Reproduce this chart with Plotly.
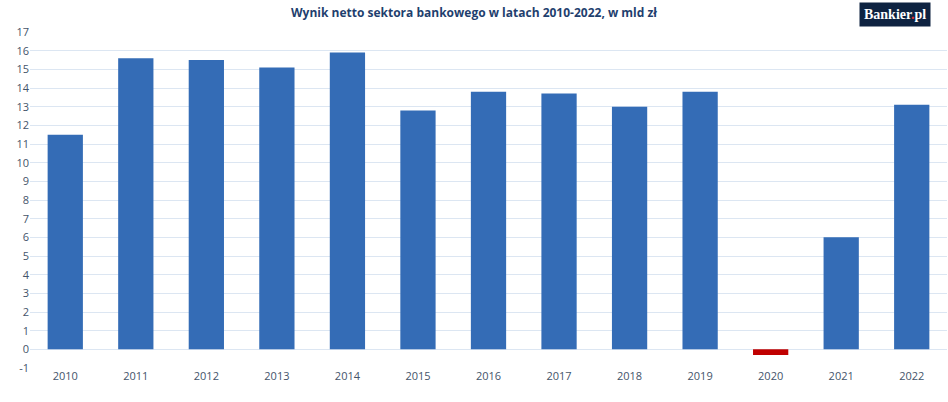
import plotly.graph_objects as go

years = ["2010", "2011", "2012", "2013", "2014", "2015", "2016",
         "2017", "2018", "2019", "2020", "2021", "2022"]
net_result = [11.5, 15.6, 15.5, 15.1, 15.9, 12.8, 13.8, 13.7, 13.0, 13.8, -0.3, 6.0, 13.1]
y_ticks = list(range(-1, 18))

colors = ["#C00000" if v < 0 else "#346CB6" for v in net_result]

fig = go.Figure()
fig.add_trace(go.Bar(
    x=years, y=net_result,
    marker=dict(color=colors, line=dict(width=0)),
    width=0.5,
    hoverinfo="x+y",
))

fig.update_layout(
    width=948, height=402,
    margin=dict(l=30, r=1, t=32, b=34, autoexpand=False),
    paper_bgcolor="white", plot_bgcolor="white",
    showlegend=False,
    font=dict(family="Open Sans, sans-serif", color="#44546A", size=11),
    title=dict(
        text="<b>Wynik netto sektora bankowego w latach 2010-2022, w mld zł</b>",
        x=0.5, xanchor="center", xref="container",
        y=1 - 13 / 402, yanchor="middle", yref="container",
        font=dict(size=12, color="#1F3F6E", family="Open Sans, sans-serif"),
        automargin=False,
    ),
    bargap=0.5,
)
fig.update_xaxes(
    type="category", showgrid=False, zeroline=False, showline=False,
    ticks="", tickfont=dict(size=11, color="#44546A"), automargin=False,
)
fig.update_yaxes(
    range=[-1, 17], tickvals=y_ticks, ticktext=[str(t) for t in y_ticks],
    showgrid=True, gridcolor="#DCE6F2", gridwidth=1,
    zeroline=True, zerolinecolor="#DCE6F2", zerolinewidth=1,
    showline=False, ticks="", tickfont=dict(size=11, color="#44546A"),
    automargin=False,
)

fig.add_annotation(
    xref="paper", yref="paper", x=0.9825, y=1.0, xanchor="right", yanchor="bottom",
    yshift=5,
    text="<b>Bankier<span style='color:#E03030'>.</span>pl</b>",
    showarrow=False,
    bgcolor="#0E2341", borderpad=4,
    font=dict(family="Liberation Serif, DejaVu Serif, serif", size=14, color="white"),
)

fig.write_html(
    "out.html",
    config={"displayModeBar": False},
    post_script="document.body.style.margin='0';",
)
